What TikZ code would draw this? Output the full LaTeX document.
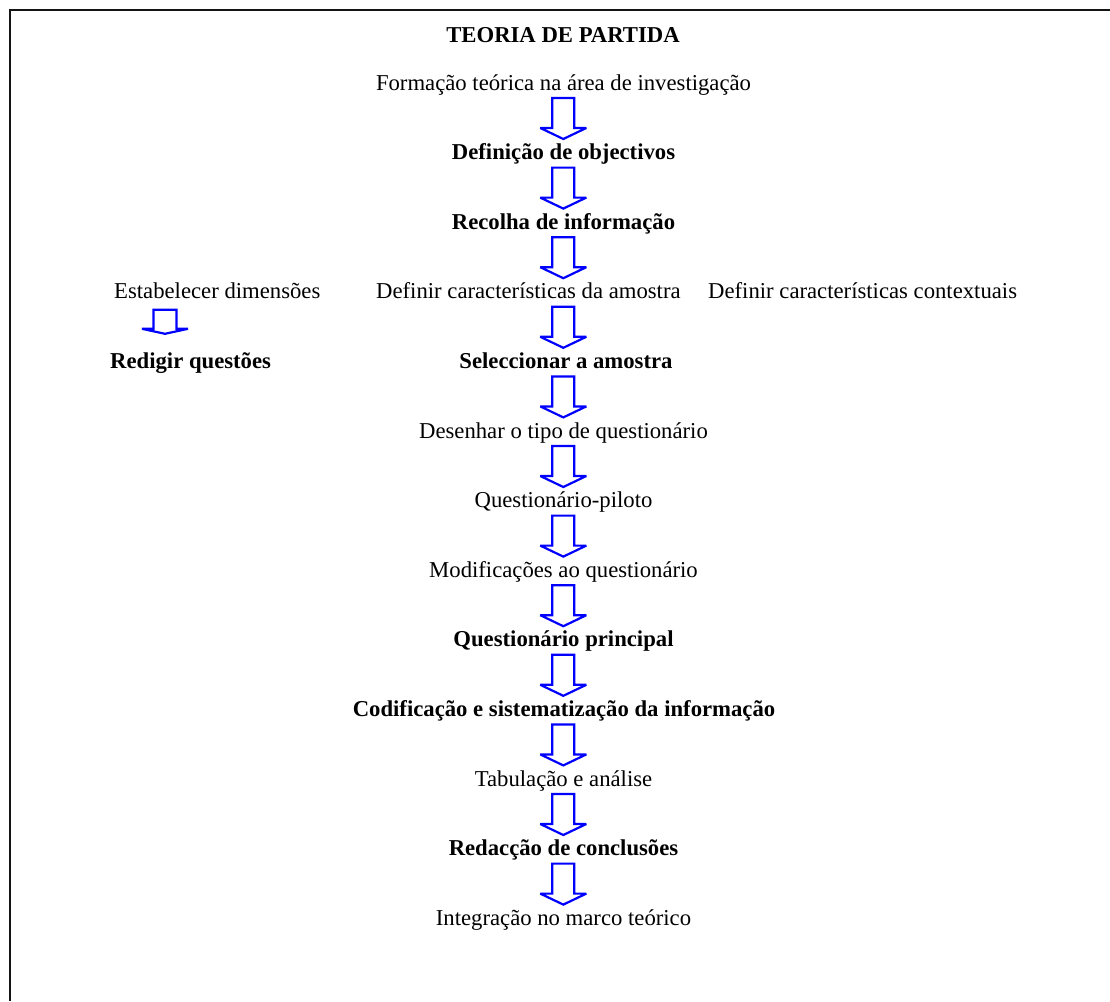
\documentclass[tikz,border=0pt]{standalone}
\usepackage{fontspec}
\setmainfont{Liberation Serif}
\begin{document}
\begin{tikzpicture}[x=1pt,y=-1pt,
  txt/.style={font=\fontsize{22.7}{27}\selectfont, inner sep=0pt, anchor=base},
  btxt/.style={txt, font=\fontsize{22.7}{27}\selectfont\bfseries},
  arrowline/.style={draw=blue, line width=2.2pt, fill=white, line join=miter, miter limit=3},
  downarr/.pic={\path[arrowline] (-11,8) -- (11,8) -- (11,38) -- (23,38) -- (0,49) -- (-23,38) -- (-11,38) -- cycle;},
  smallarr/.pic={\path[arrowline] (-11.5,11) -- (11.5,11) -- (11.5,30) -- (23,30) -- (0,35) -- (-23,30) -- (-11.5,30) -- cycle;}]
\useasboundingbox (0,0) rectangle (1110,1001);
\draw[line width=2pt, draw=black!92] (10,1001) -- (10,10) -- (1110,10);

\coordinate (axis) at (563.3,0);
\coordinate (laxis) at (165,0);

\node[btxt] (title) at (563,42) {TEORIA DE PARTIDA};
\node[txt]  (r0)  at (563.5,90.0)  {Formação teórica na área de investigação};
\node[btxt] (r1)  at (563.5,159.6) {Definição de objectivos};
\node[btxt] (r2)  at (563.5,229.2) {Recolha de informação};
\node[txt, anchor=base west] (r3) at (376,298.8) {Definir características da amostra};
\node[txt, anchor=base west] (l3) at (114,298.8) {Estabelecer dimensões};
\node[txt, anchor=base west] (c3) at (708,298.8) {Definir características contextuais};
\node[btxt] (r4)  at (566,368.4) {Seleccionar a amostra};
\node[btxt, anchor=base west] (l4) at (110,368.4) {Redigir questões};
\node[txt]  (r5)  at (563.5,438.0) {Desenhar o tipo de questionário};
\node[txt]  (r6)  at (563.5,507.6) {Questionário-piloto};
\node[txt]  (r7)  at (563.5,577.2) {Modificações ao questionário};
\node[btxt] (r8)  at (563.5,646.8) {Questionário principal};
\node[btxt] (r9)  at (564,716.4) {Codificação e sistematização da informação};
\node[txt]  (r10) at (563.5,786.0) {Tabulação e análise};
\node[btxt] (r11) at (563.5,855.6) {Redacção de conclusões};
\node[txt]  (r12) at (563.5,925.2) {Integração no marco teórico};

\foreach \k in {0,...,11} {
  \pic at (r\k.base -| axis) {downarr};
}
\pic at (l3.base -| laxis) {smallarr};
\end{tikzpicture}
\end{document}
